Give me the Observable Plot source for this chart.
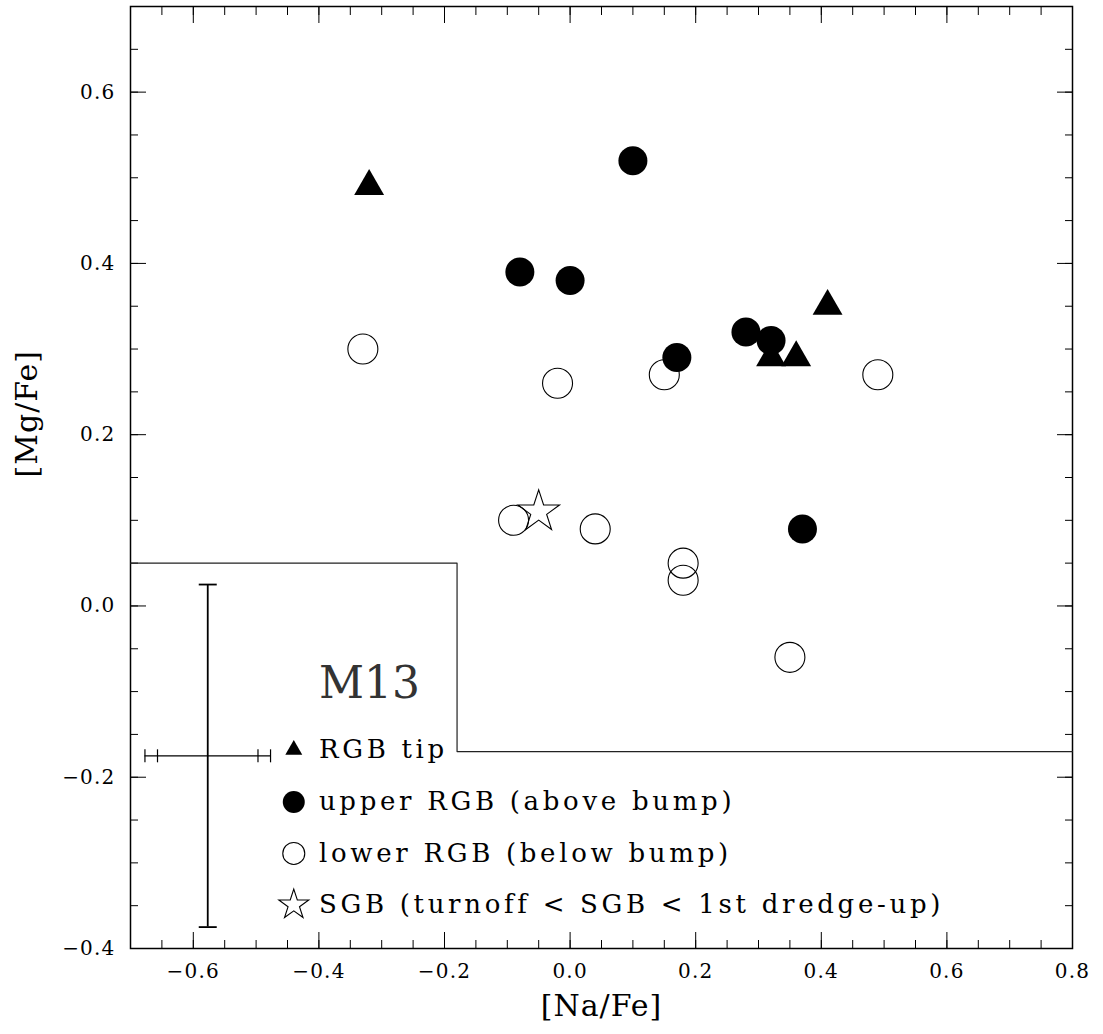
<!DOCTYPE html>
<html><head><meta charset="utf-8">
<script src="https://cdn.jsdelivr.net/npm/d3@7"></script>
<script src="https://cdn.jsdelivr.net/npm/@observablehq/plot@0.6"></script>
<style>body{margin:0;background:#fff;} #chart svg{display:block;}</style>
</head><body><div id="chart"></div>
<script>
// RGB tip (filled triangles)
const tipX = [-0.32, 0.41, 0.32, 0.36];
const tipY = [0.49, 0.35, 0.29, 0.29];
// upper RGB (filled circles)
const upperX = [0.10, -0.08, 0.00, 0.17, 0.28, 0.32, 0.37];
const upperY = [0.52, 0.39, 0.38, 0.29, 0.32, 0.31, 0.09];
// lower RGB (open circles)
const lowerX = [-0.33, -0.02, 0.15, 0.49, -0.09, 0.04, 0.18, 0.18, 0.35];
const lowerY = [0.30, 0.26, 0.27, 0.27, 0.10, 0.09, 0.05, 0.03, -0.06];
// SGB (open star)
const sgbX = [-0.05];
const sgbY = [0.11];
// boundary step line
const stepX = [-0.7, -0.18, -0.18, 0.8];
const stepY = [0.05, 0.05, -0.17, -0.17];
// typical error bar
const errX = [-0.577];
const errY = [-0.175];
const errDY = [0.2];
const errDXOuter = [0.1];
const errDXInner = [0.08];
// ticks
const xMajor = [-0.6, -0.4, -0.2, 0.0, 0.2, 0.4, 0.6, 0.8];
const yMajor = [-0.4, -0.2, 0.0, 0.2, 0.4, 0.6];
const xMinor = d3.range(-0.65, 0.8001, 0.05);
const yMinor = d3.range(-0.35, 0.7001, 0.05);
// legend
const legendLabels = ["RGB tip", "upper RGB (above bump)", "lower RGB (below bump)", "SGB (turnoff < SGB < 1st dredge-up)"];
const legendRowsY = [-0.168, -0.229, -0.289, -0.349];
const legendSymX = -0.44, legendTextX = -0.4;
const clusterName = "M13";
const clusterY = -0.091;

const toPts = (xs, ys) => xs.map((x, i) => ({x, y: ys[i]}));
const hcap = {draw(ctx, size) { const r = Math.sqrt(size / Math.PI); ctx.moveTo(-r, 0); ctx.lineTo(r, 0); }};
const vcap = {draw(ctx, size) { const r = Math.sqrt(size / Math.PI); ctx.moveTo(0, -r); ctx.lineTo(0, r); }};

const ex = errX[0], ey = errY[0];
const fmt = d3.format(".1f");

const chart = Plot.plot({
  width: 1103, height: 1034,
  marginLeft: 130, marginRight: 31, marginTop: 6, marginBottom: 86,
  style: {fontFamily: "'DejaVu Serif', serif", fontSize: "20px", background: "#fff", color: "#000"},
  x: {domain: [-0.7, 0.8], label: null},
  y: {domain: [-0.4, 0.7], label: null},
  marks: [
    // minor ticks
    Plot.axisX({anchor: "bottom", ticks: xMinor, tickSize: -8, fill: "none", label: null}),
    Plot.axisX({anchor: "top", ticks: xMinor, tickSize: -8, fill: "none", label: null}),
    Plot.axisY({anchor: "left", ticks: yMinor, tickSize: -8, fill: "none", label: null}),
    Plot.axisY({anchor: "right", ticks: yMinor, tickSize: -8, fill: "none", label: null}),
    // major ticks
    Plot.axisX({anchor: "bottom", ticks: xMajor, tickSize: -16, tickPadding: 31, tickFormat: fmt, label: null, fontSize: 20}),
    Plot.axisX({anchor: "top", ticks: xMajor, tickSize: -16, fill: "none", label: null}),
    Plot.axisY({anchor: "left", ticks: yMajor, tickSize: -16, tickPadding: 31, tickFormat: fmt, label: null, fontSize: 20}),
    Plot.axisY({anchor: "right", ticks: yMajor, tickSize: -16, fill: "none", label: null}),
    Plot.frame({stroke: "#000", strokeWidth: 1.5}),
    // axis titles
    Plot.text(["[Na/Fe]"], {frameAnchor: "bottom", dy: 67, fontSize: 30, fill: "#000"}),
    Plot.text(["[Mg/Fe]"], {frameAnchor: "left", dx: -103, rotate: -90, fontSize: 30, fill: "#000"}),
    // step boundary
    Plot.line(toPts(stepX, stepY), {x: "x", y: "y", stroke: "#222", strokeWidth: 1.2}),
    // error bar
    Plot.ruleX([{x: ex, y1: ey - errDY[0], y2: ey + errDY[0]}], {x: "x", y1: "y1", y2: "y2", stroke: "#000", strokeWidth: 1.8}),
    Plot.dot([{x: ex, y: ey - errDY[0]}, {x: ex, y: ey + errDY[0]}], {x: "x", y: "y", symbol: hcap, r: 9, stroke: "#000", strokeWidth: 1.8, fill: "none"}),
    Plot.ruleY([{y: ey, x1: ex - errDXOuter[0], x2: ex + errDXOuter[0]}], {y: "y", x1: "x1", x2: "x2", stroke: "#000", strokeWidth: 1.2}),
    Plot.dot([ex - errDXOuter[0], ex + errDXOuter[0], ex - errDXInner[0], ex + errDXInner[0]].map(x => ({x, y: ey})), {x: "x", y: "y", symbol: vcap, r: 6.5, stroke: "#000", strokeWidth: 1.2, fill: "none"}),
    // data
    Plot.dot(toPts(lowerX, lowerY), {x: "x", y: "y", r: 15, stroke: "#000", strokeWidth: 1.1, fill: "none"}),
    Plot.dot(toPts(sgbX, sgbY), {x: "x", y: "y", symbol: "star", r: 13.1, stroke: "#000", strokeWidth: 1.1, fill: "none"}),
    Plot.dot(toPts(upperX, upperY), {x: "x", y: "y", r: 14.5, fill: "#000", stroke: "none"}),
    Plot.dot(toPts(tipX, tipY), {x: "x", y: "y", symbol: "triangle", r: 11.1, fill: "#000", stroke: "none"}),
    // legend
    Plot.text([clusterName], {x: legendTextX, y: clusterY, textAnchor: "start", fontSize: 44, fill: "#333"}),
    Plot.dot([{x: legendSymX, y: legendRowsY[0]}], {x: "x", y: "y", symbol: "triangle", r: 6.3, fill: "#000"}),
    Plot.dot([{x: legendSymX, y: legendRowsY[1]}], {x: "x", y: "y", r: 11, fill: "#000"}),
    Plot.dot([{x: legendSymX, y: legendRowsY[2]}], {x: "x", y: "y", r: 11, stroke: "#000", strokeWidth: 1.1, fill: "none"}),
    Plot.dot([{x: legendSymX, y: legendRowsY[3]}], {x: "x", y: "y", symbol: "star", r: 9.4, stroke: "#000", strokeWidth: 1.1, fill: "none"}),
    Plot.text(legendLabels.map((t, i) => ({t, y: legendRowsY[i]})), {x: () => legendTextX, y: "y", text: "t", textAnchor: "start", fontSize: 26, fill: "#000"})
  ]
});
// wide Hershey-like spacing for legend and tick labels
d3.select(chart).selectAll("text")
  .filter(function() { return legendLabels.includes(this.textContent); })
  .attr("letter-spacing", "3.7px");
d3.select(chart).selectAll('g[aria-label="x-axis tick label"] text, g[aria-label="y-axis tick label"] text')
  .attr("letter-spacing", "1.2px");
d3.select(chart).selectAll("text")
  .filter(function() { return this.textContent === "[Na/Fe]" || this.textContent === "[Mg/Fe]"; })
  .attr("letter-spacing", "1px");
document.getElementById("chart").appendChild(chart);
</script>
</body></html>
